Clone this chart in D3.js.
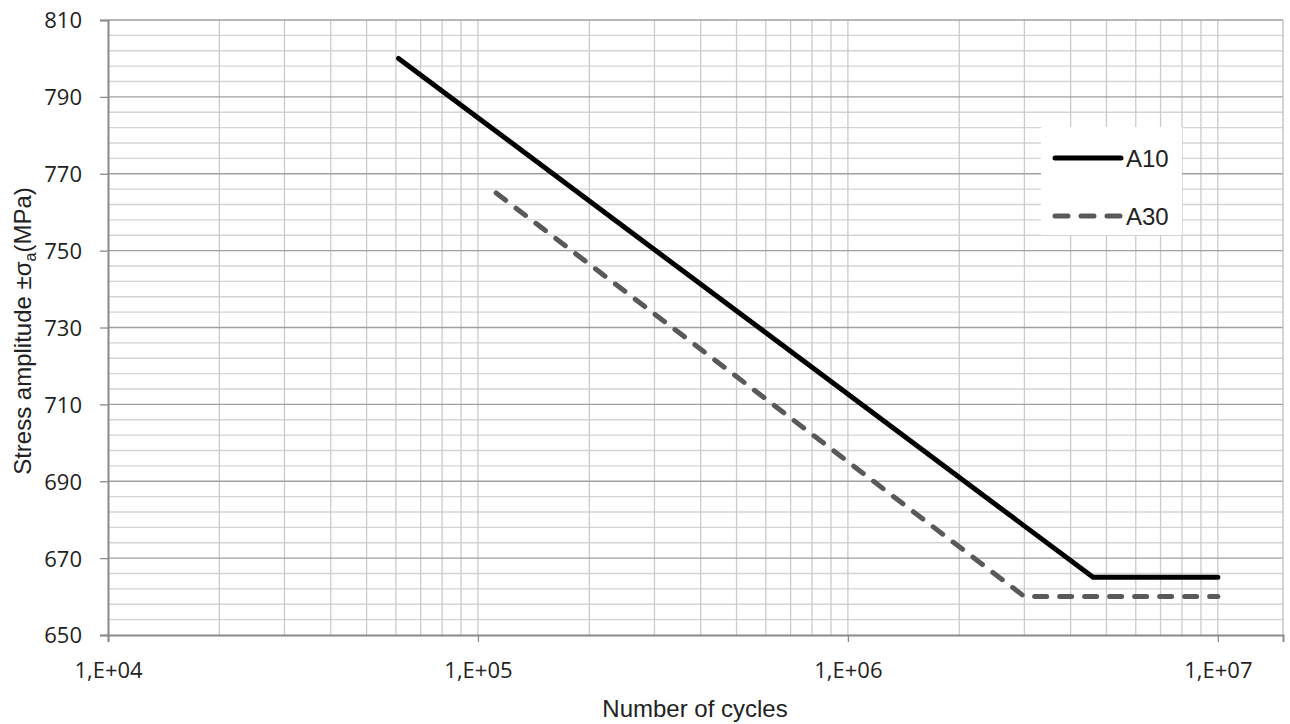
<!DOCTYPE html>
<html>
<head>
<meta charset="utf-8">
<script src="https://cdn.jsdelivr.net/npm/d3@7/dist/d3.min.js"></script>
<style>
body { margin: 0; background: #fff; }
svg { display: block; }
</style>
</head>
<body>
<svg width="1290" height="724"></svg>
<script>
var svg = d3.select("svg");

// data
var seriesNames = ["A10", "A30"];
var cyclesA10 = [6.1e4, 4.6e6, 1e7];
var stressA10 = [800, 665, 665];
var cyclesA30 = [1.12e5, 3.0e6, 1e7];
var stressA30 = [765, 660, 660];
var xTicks = [1e4, 1e5, 1e6, 1e7];
var yTicks = [650, 670, 690, 710, 730, 750, 770, 790, 810];

var plot = {left: 108, top: 20, right: 1283, bottom: 635};
var textFont = "Liberation Sans, Arial, sans-serif";

var xScale = d3.scaleLog().domain([1e4, 1.5e7]).range([plot.left, plot.right]);
var yScale = d3.scaleLinear().domain([650, 810]).range([plot.bottom, plot.top]);

// minor horizontal gridlines
var minorY = d3.range(650, 811, 4).filter(function(v) { return (v - 650) % 20 != 0; });
svg.append("g").selectAll("line").data(minorY).enter()
    .append("line")
    .attr("x1", plot.left).attr("x2", plot.right)
    .attr("y1", function(d) { return yScale(d); })
    .attr("y2", function(d) { return yScale(d); })
    .attr("stroke", "#d4d4d4").attr("stroke-width", 1.3);

// vertical gridlines (log minors + majors)
var vx = [];
for (var e = 4; e < 7; e++) {
    for (var m = 2; m <= 10; m++) vx.push(m * Math.pow(10, e));
}
svg.append("g").selectAll("line").data(vx).enter()
    .append("line")
    .attr("x1", function(d) { return xScale(d); })
    .attr("x2", function(d) { return xScale(d); })
    .attr("y1", plot.top).attr("y2", plot.bottom)
    .attr("stroke", "#cbcbcb").attr("stroke-width", 1.3);

// major horizontal gridlines
svg.append("g").selectAll("line").data(yTicks.slice(1)).enter()
    .append("line")
    .attr("x1", plot.left).attr("x2", plot.right)
    .attr("y1", function(d) { return yScale(d); })
    .attr("y2", function(d) { return yScale(d); })
    .attr("stroke", "#a0a0a0").attr("stroke-width", 1.3);

// right border
svg.append("line")
    .attr("x1", plot.right).attr("x2", plot.right)
    .attr("y1", plot.top).attr("y2", plot.bottom)
    .attr("stroke", "#bdbdbd").attr("stroke-width", 1.3);

// axes
var yAxis = svg.append("g")
    .attr("transform", "translate(" + plot.left + ",0)")
    .call(d3.axisLeft(yScale).tickValues(yTicks).tickSize(8).tickPadding(18));
var xAxis = svg.append("g")
    .attr("transform", "translate(0," + plot.bottom + ")")
    .call(d3.axisBottom(xScale).tickValues(xTicks).tickSize(7).tickPadding(20)
        .tickFormat(function(d) { return "1,E+0" + Math.round(Math.log10(d)); }));
[xAxis, yAxis].forEach(function(a) {
    a.select(".domain").attr("stroke", "#8a8a8a").attr("stroke-width", 2);
    a.selectAll(".tick line").attr("stroke", "#8a8a8a").attr("stroke-width", 1.3);
    a.selectAll(".tick text")
        .style("font-family", "'Open Sans', sans-serif")
        .style("font-size", "22px")
        .attr("fill", "#222");
});
yAxis.selectAll(".tick text").attr("dy", "0.36em");

// lines
var line = d3.line()
    .x(function(d) { return xScale(d[0]); })
    .y(function(d) { return yScale(d[1]); });

svg.append("path")
    .datum(d3.zip(cyclesA10, stressA10))
    .attr("d", line)
    .attr("fill", "none")
    .attr("stroke", "#000")
    .attr("stroke-width", 5)
    .attr("stroke-linecap", "round")
    .attr("stroke-linejoin", "round");

svg.append("path")
    .datum(d3.zip(cyclesA30, stressA30))
    .attr("d", line)
    .attr("fill", "none")
    .attr("stroke", "#595959")
    .attr("stroke-width", 5)
    .attr("stroke-dasharray", "12,13")
    .attr("stroke-linecap", "round")
    .attr("stroke-linejoin", "round");

// legend
var legend = svg.append("g");
legend.append("rect")
    .attr("x", 1041).attr("y", 127).attr("width", 141).attr("height", 108)
    .attr("fill", "#fff");
var legY = [158, 216];
seriesNames.forEach(function(name, i) {
    legend.append("line")
        .attr("x1", 1055).attr("x2", 1121)
        .attr("y1", legY[i]).attr("y2", legY[i])
        .attr("stroke", i == 0 ? "#000" : "#595959")
        .attr("stroke-width", 5)
        .attr("stroke-linecap", "round")
        .attr("stroke-dasharray", i == 0 ? null : "13,13");
    legend.append("text")
        .attr("x", 1126).attr("y", legY[i])
        .attr("dy", "0.36em")
        .style("font-family", textFont)
        .style("font-size", "24px")
        .attr("fill", "#222")
        .text(name);
});

// axis titles
svg.append("text")
    .attr("x", 695).attr("y", 717)
    .style("text-anchor", "middle")
    .style("font-family", textFont)
    .style("font-size", "24px")
    .attr("fill", "#222")
    .text("Number of cycles");

var yl = svg.append("text")
    .attr("transform", "translate(31,331) rotate(-90)")
    .style("text-anchor", "middle")
    .style("font-family", textFont)
    .style("font-size", "24px")
    .attr("fill", "#222");
yl.append("tspan").text("Stress amplitude  \u00b1\u03c3");
yl.append("tspan").attr("dy", 5).style("font-size", "16px").text("a");
yl.append("tspan").attr("dy", -5).text("(MPa)");
</script>
</body>
</html>
